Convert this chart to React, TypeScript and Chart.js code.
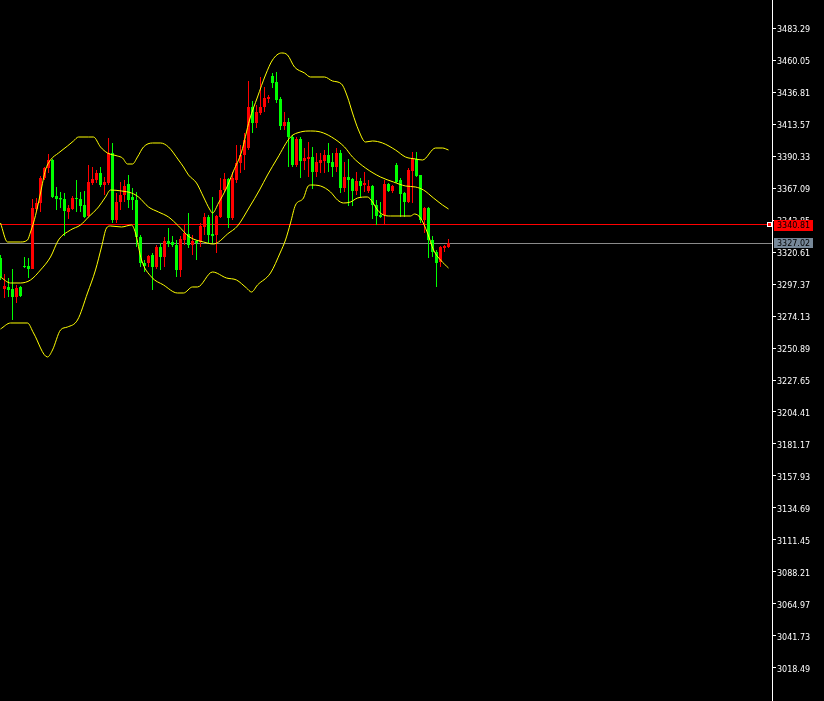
import { useEffect, useRef } from "react";
import { Chart, registerables } from "chart.js";

Chart.register(...registerables);

// OHLC series, one entry per bar
const opens = [
  3316.26, 3293.74, 3295.2, 3293.74, 3287.93, 3295.2, 3310.45, 3310.45, 3308.27, 3351.84,
  3356.2, 3374.36, 3381.62, 3387.43, 3361.28, 3359.83, 3359.11, 3349.66, 3351.84, 3359.83,
  3359.11, 3354.75, 3346.76, 3370.73, 3372.9, 3377.99, 3369.27, 3370.73, 3392.51, 3343.85,
  3356.93, 3362.01, 3370.0, 3360.56, 3358.38, 3331.51, 3312.63, 3312.63, 3318.44, 3309.72,
  3324.25, 3316.98, 3328.6, 3327.88, 3325.7, 3307.54, 3329.33, 3333.69, 3325.7, 3328.6,
  3327.88, 3338.77, 3346.03, 3333.69, 3332.96, 3346.03, 3365.64, 3373.63, 3345.31, 3372.9,
  3385.25, 3391.06, 3396.14, 3425.92, 3414.3, 3421.56, 3425.92, 3431.73, 3448.43, 3444.08,
  3431.73, 3412.12, 3415.03, 3404.13, 3383.8, 3402.68, 3386.7, 3388.16, 3389.61, 3378.71,
  3385.25, 3386.7, 3391.06, 3385.98, 3382.35, 3392.51, 3367.09, 3375.08, 3373.63, 3364.92,
  3372.18, 3369.27, 3364.92, 3368.55, 3354.75, 3347.49, 3347.49, 3370.0, 3364.92, 3383.8,
  3372.9, 3363.46, 3356.93, 3379.44, 3388.16, 3376.54, 3343.85, 3352.57, 3329.33, 3320.61,
  3313.35, 3323.52, 3324.25,
];
const highs = [
  3318.44, 3304.64, 3301.73, 3308.27, 3296.65, 3295.92, 3316.98, 3316.26, 3359.11, 3359.83,
  3375.81, 3382.35, 3391.79, 3388.16, 3367.82, 3364.19, 3363.46, 3354.75, 3361.28, 3372.9,
  3364.19, 3364.92, 3383.8, 3382.35, 3380.17, 3382.35, 3375.08, 3403.41, 3399.78, 3363.46,
  3371.45, 3372.9, 3376.54, 3367.09, 3364.19, 3332.96, 3314.8, 3318.44, 3319.89, 3325.7,
  3327.15, 3331.51, 3338.04, 3332.23, 3329.33, 3332.23, 3340.95, 3348.94, 3332.96, 3329.33,
  3341.68, 3348.94, 3347.49, 3360.56, 3347.49, 3374.36, 3377.99, 3374.36, 3378.71, 3398.32,
  3398.32, 3407.04, 3444.8, 3430.28, 3427.37, 3447.71, 3440.45, 3434.64, 3450.61, 3451.34,
  3433.18, 3422.29, 3417.93, 3405.59, 3404.13, 3404.13, 3396.14, 3400.5, 3396.87, 3392.51,
  3392.51, 3394.69, 3399.78, 3392.51, 3396.14, 3394.69, 3385.98, 3388.16, 3374.36, 3378.71,
  3374.36, 3378.71, 3372.9, 3369.27, 3358.38, 3356.93, 3372.9, 3370.73, 3369.27, 3385.25,
  3374.36, 3364.19, 3381.62, 3393.24, 3393.24, 3376.54, 3353.3, 3353.3, 3332.23, 3322.07,
  3324.97, 3325.7, 3330.06,
];
const lows = [
  3300.28, 3287.21, 3287.93, 3271.23, 3283.58, 3287.93, 3308.99, 3301.73, 3308.27, 3349.66,
  3349.66, 3372.9, 3377.99, 3359.83, 3351.12, 3352.57, 3332.23, 3344.58, 3351.12, 3349.66,
  3349.66, 3345.31, 3346.03, 3369.27, 3370.73, 3367.82, 3362.01, 3369.27, 3341.68, 3341.68,
  3351.12, 3356.93, 3352.57, 3351.12, 3324.25, 3309.72, 3306.09, 3309.72, 3293.02, 3308.27,
  3307.54, 3309.72, 3324.25, 3324.25, 3302.46, 3302.46, 3325.7, 3323.52, 3318.44, 3314.8,
  3324.25, 3332.96, 3327.15, 3327.15, 3319.89, 3345.31, 3364.19, 3338.04, 3343.85, 3370.73,
  3377.99, 3380.17, 3394.69, 3407.04, 3410.67, 3420.11, 3422.29, 3428.83, 3439.72, 3428.83,
  3409.22, 3409.22, 3382.35, 3382.35, 3382.35, 3374.36, 3380.17, 3375.08, 3366.37, 3375.08,
  3377.99, 3377.99, 3378.71, 3375.08, 3378.71, 3363.46, 3364.19, 3354.02, 3354.02, 3362.01,
  3360.56, 3364.19, 3363.46, 3344.58, 3340.22, 3345.31, 3340.22, 3364.19, 3363.46, 3370.73,
  3346.03, 3346.03, 3356.2, 3356.2, 3375.08, 3341.68, 3334.41, 3316.26, 3316.98, 3295.2,
  3309.72, 3320.61, 3323.52,
];
const closes = [
  3302.46, 3295.92, 3293.02, 3287.93, 3294.47, 3288.66, 3309.72, 3308.27, 3352.57, 3356.2,
  3374.36, 3381.62, 3387.43, 3360.56, 3359.11, 3358.8, 3350.39, 3352.57, 3359.83, 3359.11,
  3354.02, 3346.03, 3371.45, 3373.63, 3377.99, 3369.27, 3371.45, 3392.51, 3343.85, 3356.93,
  3362.01, 3368.55, 3358.38, 3358.38, 3331.51, 3312.63, 3310.45, 3317.71, 3309.72, 3324.25,
  3316.98, 3328.6, 3326.42, 3325.7, 3307.54, 3330.06, 3334.41, 3325.7, 3328.6, 3327.15,
  3339.5, 3346.03, 3332.96, 3332.23, 3346.76, 3365.64, 3373.63, 3345.31, 3374.36, 3385.25,
  3391.06, 3401.95, 3425.92, 3414.3, 3422.29, 3425.92, 3432.46, 3433.18, 3443.35, 3431.0,
  3412.12, 3415.03, 3404.13, 3383.8, 3402.68, 3386.7, 3388.88, 3389.61, 3378.71, 3385.98,
  3387.43, 3391.06, 3385.25, 3382.35, 3392.51, 3367.09, 3375.08, 3372.9, 3364.92, 3372.18,
  3368.55, 3370.73, 3368.55, 3354.75, 3346.76, 3346.03, 3370.0, 3364.92, 3368.55, 3371.45,
  3362.74, 3356.93, 3380.17, 3388.16, 3375.81, 3343.85, 3352.57, 3329.33, 3320.61, 3312.63,
  3324.25, 3324.97, 3327.02,
];

// Bollinger bands as [bar position, price]
const upperBand: [number, number][] = [
  [0, 3341.68], [1.75, 3327.88], [5, 3327.88], [6.75, 3329.33], [7.5, 3335.14], [8.25, 3341.68],
  [9.25, 3353.3], [10, 3363.46], [11.25, 3380.17], [12.5, 3387.43], [14.5, 3392.51],
  [16.75, 3397.6], [18.25, 3401.23], [19.5, 3404.13], [22, 3404.13], [23.25, 3404.13],
  [25, 3396.87], [26.75, 3392.51], [29.25, 3390.33], [30.5, 3388.88], [31.75, 3384.52],
  [33, 3384.52], [34.25, 3389.61], [35.75, 3396.87], [38, 3399.78], [40, 3399.78],
  [42, 3396.87], [44.5, 3387.43], [45.75, 3382.35], [47, 3376.54], [49, 3370.73],
  [50.75, 3360.56], [52.25, 3351.84], [53, 3348.94], [54.5, 3356.2], [56.5, 3367.09],
  [58.25, 3379.44], [60.25, 3393.24], [62.25, 3416.48], [64.25, 3433.18], [66.25, 3449.16],
  [68, 3460.05], [70.25, 3465.14], [71.75, 3463.69], [73.5, 3454.97], [76, 3450.61],
  [77.5, 3447.71], [81, 3447.71], [83, 3444.8], [85.25, 3442.63], [86.75, 3433.18],
  [88, 3421.56], [89.5, 3409.22], [91.25, 3400.5], [93, 3401.23], [95.5, 3399.78],
  [98.75, 3394.69], [101.25, 3389.61], [103.75, 3388.16], [105.5, 3387.43], [108.75, 3396.14],
  [110.5, 3396.14], [112, 3394.69],
];
const middleBand: [number, number][] = [
  [0, 3302.46], [2.5, 3298.1], [5, 3298.1], [7.5, 3300.28], [10, 3307.54], [12.5, 3316.98],
  [14.5, 3329.33], [17.5, 3336.59], [20, 3340.22], [22, 3346.03], [24.5, 3353.3],
  [26.25, 3360.56], [27.5, 3365.64], [30.25, 3364.92], [32.75, 3363.46], [34.5, 3360.56],
  [37, 3353.3], [39.5, 3349.66], [42, 3346.03], [44.5, 3339.5], [47.25, 3331.51],
  [50.75, 3327.88], [53.25, 3326.42], [54.5, 3327.88], [56.75, 3333.69], [59.25, 3339.5],
  [62.25, 3353.3], [64.75, 3365.64], [66.75, 3376.54], [69.25, 3388.88], [72.5, 3404.13],
  [75, 3407.76], [77.5, 3408.49], [80, 3407.76], [82.75, 3404.13], [86, 3396.87],
  [88, 3389.61], [91.25, 3381.62], [95, 3375.08], [98.25, 3371.45], [101.25, 3368.55],
  [103.75, 3367.82], [105.75, 3365.64], [108.25, 3359.83], [110.5, 3354.75], [112, 3351.84],
];
const lowerBand: [number, number][] = [
  [0, 3264.69], [2.5, 3269.05], [6.75, 3269.05], [8.25, 3261.79], [11.75, 3244.36],
  [13, 3249.44], [15, 3263.97], [16.75, 3266.15], [19.25, 3271.23], [21.75, 3290.84],
  [23.75, 3307.54], [25.25, 3324.25], [26.5, 3338.04], [27.5, 3339.5], [30.25, 3338.77],
  [32.75, 3340.22], [33.75, 3334.41], [35.25, 3314.8], [37.75, 3302.46], [40.75, 3296.65],
  [44.25, 3290.84], [45.75, 3290.84], [48, 3295.2], [49.25, 3295.2], [53, 3306.09],
  [56.5, 3301.73], [59, 3300.28], [61.5, 3294.47], [62.75, 3291.56], [64.25, 3296.65],
  [67.5, 3305.36], [70, 3320.61], [71.25, 3329.33], [72.5, 3341.68], [73.75, 3354.75],
  [75.75, 3359.83], [76.75, 3367.82], [77.5, 3369.27], [80, 3368.55], [82.5, 3364.19],
  [84.25, 3358.38], [85.75, 3356.2], [87.5, 3356.93], [89.25, 3359.83], [91.75, 3360.56],
  [93, 3356.93], [94.25, 3351.12], [95.75, 3347.49], [97.5, 3346.76], [102.5, 3346.76],
  [103.5, 3348.21], [105, 3345.31], [106.75, 3334.41], [108.25, 3322.07], [110, 3314.8],
  [112, 3308.99],
];

// Price scale labels
const priceTicks = [
  3018.49, 3041.73, 3064.97, 3088.21, 3111.45, 3134.69, 3157.93, 3181.17, 3204.41, 3227.65,
  3250.89, 3274.13, 3297.37, 3320.61, 3343.85, 3367.09, 3390.33, 3413.57, 3436.81, 3460.05,
  3483.29,
];
const priceMin = 2994.52;
const priceMax = 3503.63;

// Horizontal level and current bid
const levelPrice = 3340.81;
const bidPrice = 3327.02;

const UP_COLOR = "#ff0000";
const DOWN_COLOR = "#00ff00";
const BAND_COLOR = "#ffff00";
const LEVEL_COLOR = "#ff0000";
const BID_COLOR = "#8a8a8a";
const BID_BOX = "#778899";
const LABEL_FONT = "8px 'DejaVu Sans'";

const priceLines = {
  id: "priceLines",
  beforeDraw(chart: any) {
    const { ctx, width, height } = chart;
    ctx.save();
    ctx.fillStyle = "#000000";
    ctx.fillRect(0, 0, width, height);
    ctx.restore();
  },
  beforeDatasetsDraw(chart: any) {
    const { ctx, chartArea } = chart;
    const ys = chart.scales.y;
    const yLevel = Math.round(ys.getPixelForValue(levelPrice)) + 0.5;
    const yBid = Math.round(ys.getPixelForValue(bidPrice)) + 0.5;
    ctx.save();
    ctx.lineWidth = 1;
    ctx.strokeStyle = BID_COLOR;
    ctx.beginPath();
    ctx.moveTo(chartArea.left, yBid);
    ctx.lineTo(chartArea.right, yBid);
    ctx.stroke();
    ctx.strokeStyle = LEVEL_COLOR;
    ctx.beginPath();
    ctx.moveTo(chartArea.left, yLevel);
    ctx.lineTo(chartArea.right - 3, yLevel);
    ctx.stroke();
    ctx.restore();
  },
  afterDraw(chart: any) {
    const { ctx, chartArea } = chart;
    const ys = chart.scales.y;
    const yLevel = Math.round(ys.getPixelForValue(levelPrice));
    const yBid = Math.round(ys.getPixelForValue(bidPrice));
    const boxLeft = chartArea.right + 2;
    const boxWidth = 39;
    ctx.save();
    // anchor of the level line
    ctx.fillStyle = "#ffffff";
    ctx.fillRect(chartArea.right - 5, yLevel - 2, 5, 5);
    ctx.fillStyle = LEVEL_COLOR;
    ctx.fillRect(chartArea.right - 4, yLevel - 1, 3, 3);
    // price tags on the scale
    ctx.font = LABEL_FONT;
    ctx.textBaseline = "middle";
    ctx.textAlign = "left";
    ctx.fillStyle = LEVEL_COLOR;
    ctx.fillRect(boxLeft, yLevel - 4, boxWidth, 11);
    ctx.fillStyle = "#000000";
    ctx.fillText(levelPrice.toFixed(2), boxLeft + 3, yLevel + 2);
    ctx.fillStyle = BID_BOX;
    ctx.fillRect(boxLeft, yBid - 5, boxWidth, 10);
    ctx.fillStyle = "#000000";
    ctx.fillText(bidPrice.toFixed(2), boxLeft + 3, yBid + 1);
    ctx.restore();
  },
};

export default function App() {
  const canvasRef = useRef<HTMLCanvasElement | null>(null);

  useEffect(() => {
    document.body.style.margin = "0";
    document.body.style.background = "#000";
    const canvas = canvasRef.current;
    if (!canvas) return;

    const index = closes.map((_, i) => i);
    const colors = index.map((i) => (closes[i] >= opens[i] ? UP_COLOR : DOWN_COLOR));
    const wickData = index.map((i) => ({ x: i, y: [lows[i], highs[i]] }));
    const bodyData = index.map((i) => ({ x: i, y: [opens[i], closes[i]] }));
    const band = (pts: [number, number][]) => ({
      type: "line" as const,
      data: pts.map(([x, y]) => ({ x, y })),
      borderColor: BAND_COLOR,
      borderWidth: 1,
      pointRadius: 0,
      cubicInterpolationMode: "monotone" as const,
      fill: false,
      order: 0,
    });

    const chart = new Chart(canvas, {
      type: "bar",
      data: {
        datasets: [
          {
            type: "bar",
            data: wickData as any,
            backgroundColor: colors,
            borderWidth: 0,
            barThickness: 1,
            grouped: false,
            inflateAmount: 0,
            order: 2,
          },
          {
            type: "bar",
            data: bodyData as any,
            backgroundColor: colors,
            borderWidth: 0,
            barThickness: 3,
            minBarLength: 1,
            grouped: false,
            inflateAmount: 0,
            order: 1,
          },
          band(upperBand) as any,
          band(middleBand) as any,
          band(lowerBand) as any,
        ],
      },
      options: {
        responsive: false,
        maintainAspectRatio: false,
        animation: false,
        devicePixelRatio: 1,
        layout: { padding: 0 },
        plugins: { legend: { display: false }, tooltip: { enabled: false } },
        scales: {
          x: {
            type: "linear",
            display: false,
            offset: false,
            min: -0.125,
            max: 192.875,
          },
          y: {
            type: "linear",
            position: "right",
            min: priceMin,
            max: priceMax,
            afterBuildTicks: (s: any) => {
              s.ticks = priceTicks.map((v) => ({ value: v }));
            },
            afterFit: (s: any) => {
              s.width = 52;
              s.paddingTop = 0;
              s.paddingBottom = 0;
            },
            ticks: {
              color: "#ffffff",
              font: { family: "DejaVu Sans", size: 8 },
              padding: 1,
              labelOffset: 2,
              autoSkip: false,
              callback: (v: any) => Number(v).toFixed(2),
            },
            grid: {
              display: true,
              drawOnChartArea: false,
              drawTicks: true,
              tickLength: 4,
              tickColor: "#ffffff",
            },
            border: { display: true, color: "#ffffff", width: 1 },
          },
        },
      },
      plugins: [priceLines],
    });

    return () => chart.destroy();
  }, []);

  return (
    <div style={{ position: "fixed", left: 0, top: 0, width: 824, height: 701, background: "#000" }}>
      <canvas ref={canvasRef} width={824} height={701} style={{ display: "block" }} />
    </div>
  );
}
